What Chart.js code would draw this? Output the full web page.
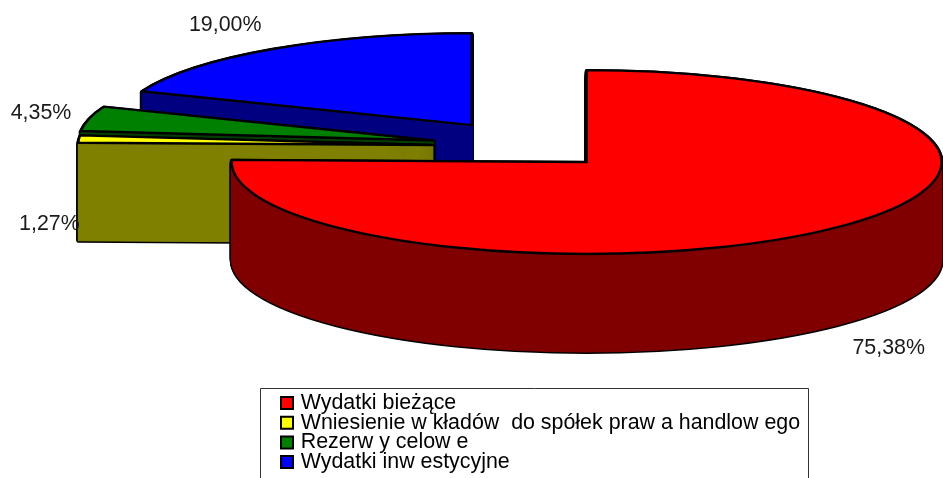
<!DOCTYPE html>
<html lang="pl">
<head>
<meta charset="utf-8">
<style>html,body{margin:0;padding:0;background:#fff}canvas{display:block}</style>
<script src="https://cdn.jsdelivr.net/npm/chart.js@4"></script>
</head>
<body>
<canvas id="c" width="943" height="478"></canvas>
<script>
const categories = ['Wydatki bieżące', 'Wniesienie w kładów  do spółek praw a handlow ego', 'Rezerw y celow e', 'Wydatki inw estycyjne'];
const shares = [75.38, 1.27, 4.35, 19.00];
const topColors = ['#ff0000', '#ffff00', '#008000', '#0000ff'];
const wallColors = ['#800000', '#808000', '#004000', '#000080'];
const explode = [84, 95, 97, 100];
const labelNudges = [[54, 120], [-29.5, 85], [-48, -5.5], [-47, -24]];

const SQUASH = 0.259, WALL = 98, CENTER_Y = 146.5, RADIUS = 355;
const LEGEND_DX = 172.7, LEGEND_DY = 394;

function tracePath(ctx, arc, off, dy) {
  const {x, y, startAngle, endAngle, outerRadius} = arc.getProps(['x', 'y', 'startAngle', 'endAngle', 'outerRadius'], true);
  const mid = (startAngle + endAngle) / 2;
  const px = x + Math.cos(mid) * off, py = y + Math.sin(mid) * off;
  ctx.save();
  ctx.translate(0, CENTER_Y + dy);
  ctx.scale(1, SQUASH);
  ctx.translate(0, -y);
  ctx.beginPath();
  ctx.moveTo(px, py);
  ctx.arc(px, py, outerRadius, startAngle, endAngle);
  ctx.closePath();
  ctx.restore();
}

const pie3d = {
  id: 'pie3d',
  beforeDraw(chart) {
    const lg = chart.legend;
    if (lg && !lg._moved) {
      lg._moved = true;
      lg.draw = function () {
        const c = this.ctx;
        c.save();
        c.translate(LEGEND_DX, LEGEND_DY);
        this._draw();
        c.restore();
      };
    }
  },
  beforeDatasetDraw(chart, args) {
    const ctx = chart.ctx;
    const arcs = chart.getDatasetMeta(args.index).data;
    [3, 2, 1, 0].forEach(i => {
      const arc = arcs[i], off = explode[i];
      ctx.lineJoin = 'round';
      ctx.strokeStyle = '#000';
      ctx.lineWidth = 4;
      for (let d = WALL; d >= 1; d--) { tracePath(ctx, arc, off, d); ctx.stroke(); }
      ctx.strokeStyle = wallColors[i];
      ctx.fillStyle = wallColors[i];
      ctx.lineWidth = 1;
      for (let d = WALL; d >= 1; d--) { tracePath(ctx, arc, off, d); ctx.fill(); ctx.stroke(); }
      tracePath(ctx, arc, off, 0);
      ctx.fillStyle = topColors[i];
      ctx.fill();
      ctx.strokeStyle = '#000';
      ctx.lineWidth = 2.4;
      ctx.stroke();
    });
    return false;
  },
  afterDraw(chart) {
    const ctx = chart.ctx;
    const arcs = chart.getDatasetMeta(0).data;
    ctx.save();
    ctx.font = '21.4px "Liberation Sans"';
    ctx.fillStyle = '#1a1a1a';
    ctx.textAlign = 'center';
    ctx.textBaseline = 'middle';
    arcs.forEach((arc, i) => {
      const mid = (arc.startAngle + arc.endAngle) / 2;
      const cx = arc.x + Math.cos(mid) * explode[i];
      const cy = CENTER_Y + Math.sin(mid) * explode[i] * SQUASH;
      const bx = cx + Math.cos(mid) * RADIUS;
      const by = cy + Math.sin(mid) * RADIUS * SQUASH;
      const text = shares[i].toFixed(2).replace('.', ',') + '%';
      ctx.fillText(text, bx + labelNudges[i][0], by + labelNudges[i][1]);
    });
    // legend frame, open at the bottom where the picture is cut off
    ctx.strokeStyle = '#333';
    ctx.lineWidth = 1;
    ctx.beginPath();
    ctx.moveTo(260.5, 478);
    ctx.lineTo(260.5, 388.5);
    ctx.lineTo(808.5, 388.5);
    ctx.lineTo(808.5, 478);
    ctx.stroke();
    ctx.restore();
  }
};

new Chart(document.getElementById('c'), {
  type: 'pie',
  data: {
    labels: categories,
    datasets: [{
      data: shares,
      backgroundColor: topColors,
      borderColor: '#000',
      borderWidth: 2,
      radius: RADIUS
    }]
  },
  options: {
    responsive: false,
    animation: false,
    events: [],
    radius: RADIUS,
    layout: {padding: {left: 113, top: 0, right: 0, bottom: 478 - 2 * CENTER_Y}},
    plugins: {
      tooltip: {enabled: false},
      title: {display: false},
      legend: {
        position: 'chartArea',
        align: 'start',
        labels: {
          usePointStyle: true,
          pointStyle: 'rect',
          boxWidth: 6,
          boxHeight: 12,
          padding: -1.7,
          color: '#000',
          font: {family: '"Liberation Sans"', size: 21.4}
        }
      }
    }
  },
  plugins: [pie3d]
});
</script>
</body>
</html>
